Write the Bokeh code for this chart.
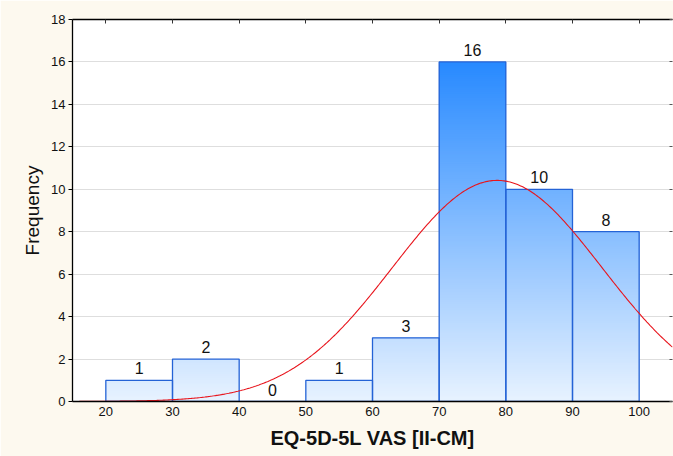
import numpy as np
from bokeh.plotting import figure
from bokeh.models import LinearAxis, FixedTicker, Range1d
from bokeh.embed import file_html
from bokeh.resources import INLINE
from bokeh.core.properties import value

# ---- data ----
bin_left = [20, 30, 40, 50, 60, 70, 80, 90]
bin_right = [30, 40, 50, 60, 70, 80, 90, 100]
counts = [1, 2, 0, 1, 3, 16, 10, 8]
x_ticks = [20, 30, 40, 50, 60, 70, 80, 90, 100]
y_ticks = [0, 2, 4, 6, 8, 10, 12, 14, 16, 18]
fit_mean = 78.7
fit_sd = 15.7
bin_width = 10
n_total = sum(counts)

FONT = "Liberation Sans"
BG = "#fdf9ef"

p = figure(width=673, height=456, output_backend="svg", toolbar_location=None,
           x_range=Range1d(15, 105), y_range=Range1d(0, 18),
           min_border_left=72, min_border_top=19, min_border_bottom=55, min_border_right=1,
           background_fill_color="white", border_fill_color=BG)
p.outline_line_color = None

# gradient bars via overlapping thin slices
y_hi = 16.0
c_lo = np.array([232, 243, 255])
c_hi = np.array([40, 138, 255])
step = 0.1
L, R, B, T, C = [], [], [], [], []
for l, r, c in zip(bin_left, bin_right, counts):
    y = 0.0
    while y < c - 1e-9:
        top = min(y + 3 * step, c)
        t = min(max((y + step / 2) / y_hi, 0), 1)
        col = (c_lo + (c_hi - c_lo) * t).astype(int)
        L.append(l); R.append(r); B.append(y); T.append(top)
        C.append("#%02x%02x%02x" % tuple(col))
        y = y + step
p.quad(left=L, right=R, bottom=B, top=T, fill_color=C, line_color=None)
p.quad(left=bin_left, right=bin_right, bottom=0, top=counts,
       fill_color=None, line_color="#2463d6", line_width=1.3)

# normal fit curve
xs = np.linspace(15, 105, 400)
ys = n_total * bin_width / (fit_sd * np.sqrt(2 * np.pi)) * np.exp(-(xs - fit_mean) ** 2 / (2 * fit_sd ** 2))
p.line(xs, ys, line_color="#e8141c", line_width=1.1)

# count labels
mids = [(l + r) / 2 for l, r in zip(bin_left, bin_right)]
p.text(x=mids, y=counts, text=[str(c) for c in counts], text_align="center",
       text_baseline="bottom", y_offset=-6, text_font=value(FONT),
       text_font_size="16px", text_color="#111111")

# grid
p.xgrid.visible = False
p.ygrid.ticker = FixedTicker(ticks=y_ticks)
p.ygrid.grid_line_color = "#dedede"
p.ygrid.grid_line_width = 1

# axes
p.xaxis.ticker = FixedTicker(ticks=x_ticks)
p.yaxis.ticker = FixedTicker(ticks=y_ticks)
for ax in (p.xaxis[0], p.yaxis[0]):
    ax.axis_line_color = "#000000"
    ax.axis_line_width = 1.3
    ax.major_tick_line_color = "#000000"
    ax.minor_tick_line_color = None
    ax.major_label_text_font = FONT
    ax.major_label_text_font_size = "13px"
    ax.major_label_text_color = "#111111"
    ax.axis_label_text_font = FONT
    ax.axis_label_text_color = "#111111"

p.xaxis.major_tick_in = 0
p.xaxis.major_tick_out = 0
p.xaxis.major_label_standoff = 5
p.xaxis.axis_label = "EQ-5D-5L VAS [II-CM]"
p.xaxis.axis_label_text_font_style = "bold"
p.xaxis.axis_label_text_font_size = "20px"
p.xaxis.axis_label_standoff = 8

p.yaxis.major_tick_in = 0
p.yaxis.major_tick_out = 4
p.yaxis.major_label_standoff = 3
p.yaxis.axis_label = "Frequency"
p.yaxis.axis_label_text_font_style = "normal"
p.yaxis.axis_label_text_font_size = "19px"
p.yaxis.axis_label_standoff = 5

top_ax = LinearAxis(ticker=FixedTicker(ticks=x_ticks),
                    major_label_overrides={t: "" for t in x_ticks},
                    major_tick_in=4, major_tick_out=0, minor_tick_line_color=None,
                    axis_line_color="#000000", axis_line_width=1.3,
                    major_tick_line_color="#333333", major_label_standoff=0)
p.add_layout(top_ax, "above")
right_ax = LinearAxis(ticker=FixedTicker(ticks=y_ticks),
                      major_label_overrides={t: "" for t in y_ticks},
                      major_tick_in=3, major_tick_out=0, minor_tick_line_color=None,
                      axis_line_color=None, major_tick_line_color="#555555",
                      major_label_standoff=0)
p.add_layout(right_ax, "right")

open("out.html", "w").write(file_html(p, INLINE))
